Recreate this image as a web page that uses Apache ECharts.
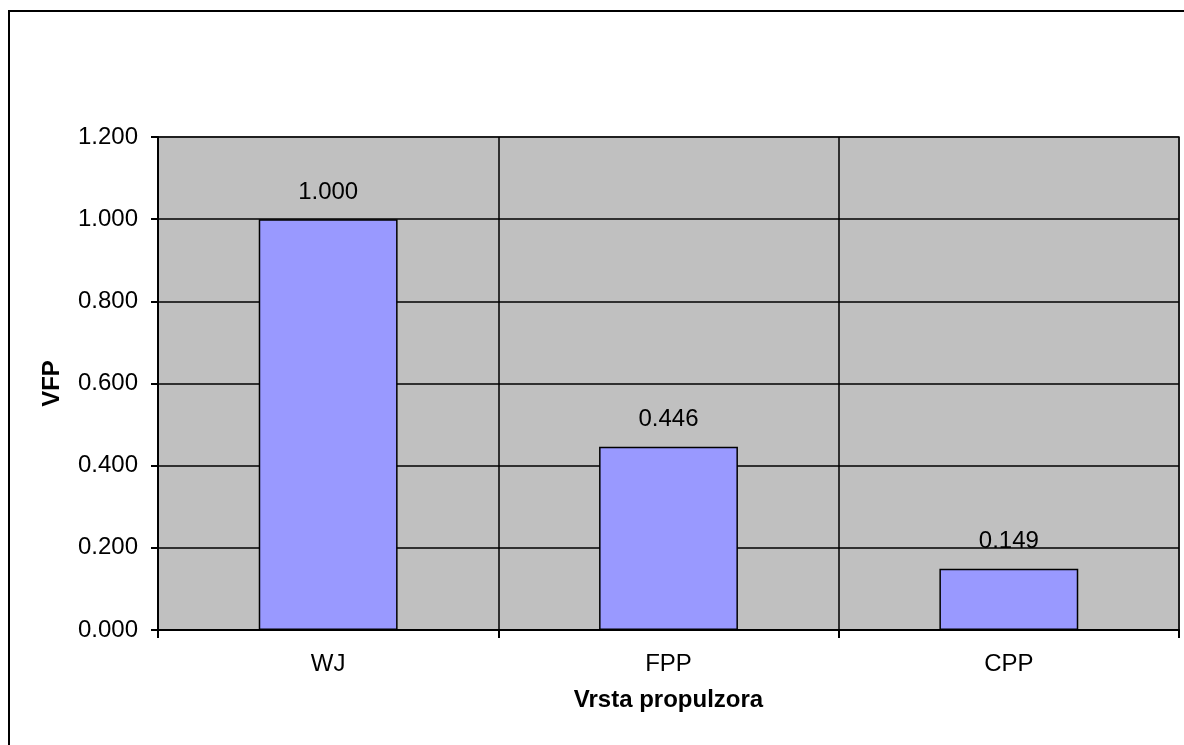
<!DOCTYPE html>
<html>
<head>
<meta charset="utf-8">
<script src="https://cdn.jsdelivr.net/npm/echarts@6/dist/echarts.min.js"></script>
<style>
  html, body { margin: 0; padding: 0; background: #fff; }
  #main { width: 1184px; height: 745px; }
</style>
</head>
<body>
<div id="main"></div>
<script>
var categories = ['WJ', 'FPP', 'CPP'];
var vfpValues = [1.000, 0.446, 0.149];
var yTicks = { min: 0, max: 1.2, interval: 0.2 };

var font = 'Liberation Sans, Arial, sans-serif';

var option = {
    backgroundColor: '#ffffff',
    animation: false,
    graphic: [
        {
            type: 'rect',
            shape: { x: 9, y: 11, width: 1250, height: 850 },
            style: { fill: 'none', stroke: '#000', lineWidth: 2 }
        }
    ],
    grid: {
        left: 158,
        right: 5,
        top: 137,
        bottom: 115,
        show: true,
        backgroundColor: '#c0c0c0',
        borderColor: '#808080',
        borderWidth: 2
    },
    xAxis: {
        type: 'category',
        data: categories,
        name: 'Vrsta propulzora',
        nameLocation: 'middle',
        nameGap: 58,
        nameTextStyle: { fontFamily: font, fontSize: 24, fontWeight: 'bold', color: '#000' },
        axisLine: { lineStyle: { color: '#000', width: 2 } },
        axisTick: { show: true, length: 8, lineStyle: { color: '#000', width: 2 } },
        axisLabel: { fontFamily: font, fontSize: 24, color: '#000', margin: 22 },
        splitLine: { show: true, lineStyle: { color: '#000', width: 1.5 } }
    },
    yAxis: {
        type: 'value',
        min: yTicks.min,
        max: yTicks.max,
        interval: yTicks.interval,
        name: 'VFP',
        nameLocation: 'middle',
        nameGap: 94,
        nameTextStyle: { fontFamily: font, fontSize: 24, fontWeight: 'bold', color: '#000' },
        axisLine: { show: true, lineStyle: { color: '#000', width: 2 } },
        axisTick: { show: true, length: 7, lineStyle: { color: '#000', width: 2 } },
        axisLabel: {
            fontFamily: font, fontSize: 24, color: '#000', margin: 20,
            formatter: function (v) { return v.toFixed(3); }
        },
        splitLine: { show: true, lineStyle: { color: '#000', width: 1.5 } }
    },
    series: [
        {
            type: 'bar',
            data: vfpValues,
            barWidth: '40.8%',
            itemStyle: { color: '#9999ff', borderColor: '#000', borderWidth: 1.5 },
            label: {
                show: true,
                position: 'top',
                distance: 15,
                fontFamily: font,
                fontSize: 24,
                color: '#000',
                formatter: function (p) { return p.value.toFixed(3); }
            }
        }
    ]
};

var myChart = echarts.init(document.getElementById('main'));
myChart.setOption(option);
</script>
</body>
</html>
